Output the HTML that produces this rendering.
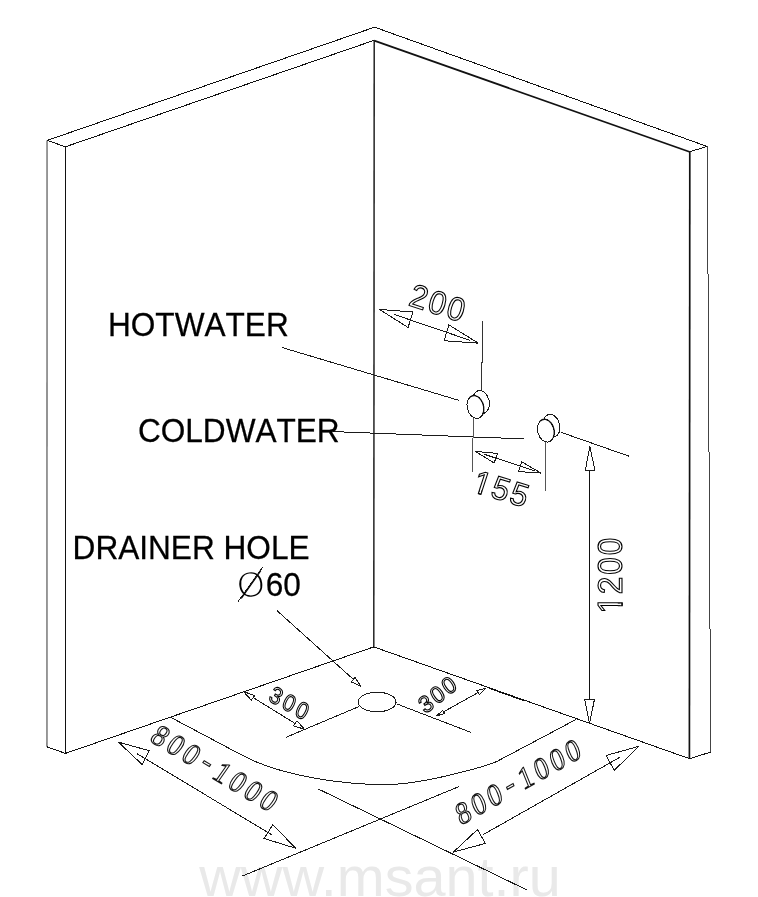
<!DOCTYPE html>
<html lang="en">
<head>
<meta charset="utf-8">
<title>Shower cabin installation scheme</title>
<style>
html,body{margin:0;padding:0;background:#fff;}
body{width:758px;height:897px;overflow:hidden;position:relative;}
svg{display:block;position:absolute;left:0;top:0;filter:grayscale(1);}
.ln{stroke:#111;stroke-width:1;fill:none;shape-rendering:crispEdges;}
.thin{stroke:#1a1a1a;stroke-width:1;fill:none;shape-rendering:crispEdges;}
.gr{stroke:#8a8a8a;stroke-width:1.1;fill:none;}
.thick{stroke:#111;stroke-width:1.7;fill:none;}
.ar{stroke:#1a1a1a;stroke-width:1;fill:#fff;stroke-linejoin:miter;shape-rendering:crispEdges;}
.lbl{font-family:"Liberation Sans",Arial,Helvetica,sans-serif;font-size:31.6px;font-kerning:none;fill:#000;stroke:#000;stroke-width:.25px;}
.dim{font-family:"Liberation Sans",Arial,Helvetica,sans-serif;font-size:100px;fill:#fff;stroke:#000;}
.dimm{font-family:"Liberation Serif","Times New Roman",serif;font-size:100px;fill:#fff;stroke:#111;}
.dia{font-family:"DejaVu Sans",sans-serif;font-weight:200;font-size:32.3px;fill:#000;}
.wm{font-family:"Liberation Sans",Arial,Helvetica,sans-serif;font-size:56px;fill:#e9e9e9;}
</style>
</head>
<body>
<svg width="758" height="897" viewBox="0 0 758 897">
<rect width="758" height="897" fill="#fff"/>

<!-- watermark -->
<g id="watermark">
<text class="wm" x="199.3" y="895.6" textLength="361.5" lengthAdjust="spacingAndGlyphs">www.msant.ru</text>
</g>

<!-- walls -->
<g id="walls">
<line class="gr" x1="47.05" y1="140.4" x2="46.95" y2="746.8" style="stroke:#555;stroke-width:1.2"/>
<line class="ln" x1="65.5" y1="146.8" x2="65.5" y2="753.4"/>
<line class="ln" x1="47.2" y1="140.4" x2="65.4" y2="146.8"/>
<line class="ln" x1="47.2" y1="140.4" x2="374.6" y2="27.2"/>
<line class="ln" x1="65.4" y1="146.8" x2="374.2" y2="40.3"/>
<line class="ln" x1="46.9" y1="746.8" x2="65.4" y2="753.4"/>
<line class="ln" x1="65.4" y1="753.4" x2="373.8" y2="646.9"/>
<line class="thick" x1="374.2" y1="40.3" x2="373.8" y2="646.9" style="stroke-width:1.4"/>
<line class="ln" x1="374.6" y1="27.2" x2="707" y2="146.4"/>
<line class="thick" x1="374.2" y1="40.6" x2="690" y2="152"/>
<line class="ln" x1="690" y1="151.7" x2="707" y2="146.4"/>
<line class="thick" x1="689.8" y1="151.7" x2="689.4" y2="758.7"/>
<line class="thin" x1="707.3" y1="146.4" x2="710.7" y2="752.1" style="stroke:#444"/>
<line class="ln" x1="689.6" y1="758.7" x2="710.7" y2="752.1"/>
<line class="ln" x1="373.8" y1="646.9" x2="689.6" y2="758.7"/>
<line class="ln" x1="488.8" y1="688.2" x2="524.8" y2="701"/>
</g>

<!-- tray -->
<g id="tray">
<path class="thin" d="M170.6 717.3 L242.8 755.6 C282.9 776.8 345 784.6 385 784.6 C425 784.6 490.8 764.7 498.3 760.7 L576 719.5"/>
<ellipse class="thin" cx="377.1" cy="702" rx="19" ry="9.75"/>
<line class="thin" x1="358.6" y1="706.7" x2="286" y2="737.3"/>
<line class="thin" x1="397" y1="704" x2="470.6" y2="732.3"/>
<line class="thin" x1="459.4" y1="786.4" x2="242.5" y2="876"/>
<line class="thin" x1="318.3" y1="789" x2="527" y2="890"/>
</g>

<!-- dimension 800-1000 left -->
<g id="dimL">
<line class="thin" x1="136.9" y1="753.6" x2="271.5" y2="834.6"/>
<path class="ar" d="M118.5 742.2 L149.3 750.7 L142.2 764.6 Z" style="fill:none"/>
<path class="ar" d="M295.8 848.3 L272.8 824.8 L264.1 838.5 Z" style="fill:none"/>
<g id="t8L" class="dimm" transform="matrix(0.2491 0.1479 -0.1749 0.2498 148.6 740.6)" stroke-width="3.6721">
<text x="0 62.1225 124.245 194.3676 248.4901 310.6126 372.7351 434.8576" y="0 0 0 -9 0 0 0 0">800-1000</text>
</g>
</g>

<!-- dimension 800-1000 right -->
<g id="dimR">
<line class="thin" x1="483.4" y1="834.5" x2="619.8" y2="757.3"/>
<path class="ar" d="M453.4 852.1 L477.5 829.5 L485.4 843.4 Z" style="fill:none"/>
<path class="ar" d="M638.8 746.3 L606.1 755.5 L614.3 770.3 Z" style="fill:none"/>
<g id="t8R" class="dimm" transform="matrix(0.2522 -0.1427 0.1143 0.2828 460.7 825.7)" stroke-width="3.6721">
<text x="0 62.1225 124.245 194.3676 248.4901 310.6126 372.7351 434.8576" y="0 0 0 -9 0 0 0 0">800-1000</text>
</g>
</g>

<!-- dimension 300 left -->
<g id="d300L">
<line class="thin" x1="243.6" y1="691.7" x2="304.4" y2="729.2"/>
<path class="ar" d="M243.6 691.7 L254.8 695.5 L251.2 700.1 Z" style="fill:#fff"/>
<path class="ar" d="M304.4 729.2 L297 720.8 L293.5 725.9 Z" style="fill:#fff"/>
<g id="t3L" class="dim" transform="matrix(0.1895 0.1089 -0.1015 0.2119 267.6 699.9)" stroke-width="4.766">
<text x="0 68.1766 136.3532" y="0 0 0">300</text>
</g>
</g>

<!-- dimension 300 right -->
<g id="d300R">
<line class="thin" x1="436.5" y1="715.8" x2="485.1" y2="688.6"/>
<path class="ar" d="M436.5 715.8 L442.6 710.6 L444.8 713.6 Z" style="fill:#fff"/>
<path class="ar" d="M485.1 688.6 L476.8 690.5 L479.6 694.6 Z" style="fill:#fff"/>
<g id="t3R" class="dim" transform="matrix(0.1904 -0.1236 0.1274 0.1962 425 714.1)" stroke-width="4.7863">
<text x="0 64.7634 129.5268" y="0 -6.8376 -13.6752">300</text>
</g>
</g>

<!-- drainer leader -->
<g id="leader">
<line class="thin" x1="276.7" y1="610.4" x2="353.4" y2="679.4"/>
<path class="ar" d="M360.9 686.5 L355 677.3 L351.4 681.9 Z"/>
</g>

<!-- taps -->
<g id="taps">
<line class="thin" x1="282" y1="347.5" x2="459.4" y2="400.5"/>
<line class="thin" x1="333" y1="431.6" x2="524" y2="438.9"/>
<line class="thin" x1="561" y1="432.3" x2="629" y2="456.2"/>
<line class="thin" x1="482.9" y1="321.5" x2="481.4" y2="391.3" style="stroke:#333"/>
<line class="thin" x1="473.4" y1="417.5" x2="472.4" y2="472.3" style="stroke:#555"/>
<line class="thin" x1="545.9" y1="442" x2="545.3" y2="491.1" style="stroke:#555"/>
<g transform="translate(475.4 407)">
<ellipse class="thin" cx="5.6" cy="-5" rx="8.2" ry="11.6" transform="rotate(-14 5.6 -5)" style="fill:#fff"/>
<ellipse class="thin" cx="0" cy="0" rx="8.2" ry="11.6" transform="rotate(-14)" style="fill:#fff"/>
<path d="M-3.4655 -10.5132 A8.2 11.6 0 0 1 5.2709 8.8861" transform="rotate(-14)" style="fill:none;stroke:#111;stroke-width:1.3"/>
</g>
<g transform="translate(545.9 430.7)">
<ellipse class="thin" cx="5.6" cy="-5" rx="8.2" ry="11.6" transform="rotate(-14 5.6 -5)" style="fill:#fff"/>
<ellipse class="thin" cx="0" cy="0" rx="8.2" ry="11.6" transform="rotate(-14)" style="fill:#fff"/>
<path d="M-3.4655 -10.5132 A8.2 11.6 0 0 1 5.2709 8.8861" transform="rotate(-14)" style="fill:none;stroke:#111;stroke-width:1.3"/>
</g>
</g>

<!-- dimension 200 -->
<g id="d200">
<line class="thin" x1="394" y1="314.4" x2="470" y2="340.3"/>
<path class="ar" d="M379.4 309.4 L412.9 312 L408.1 327.5 Z" style="fill:none"/>
<path class="ar" d="M478.4 343.2 L448.9 324.9 L444.1 340.7 Z" style="fill:none"/>
<g id="t200" class="dim" transform="matrix(0.2995 0.0973 -0.0959 0.3137 407.5 305)" stroke-width="3.4146">
<text x="0 61.9284 123.8567" y="0 0 0">200</text>
</g>
</g>

<!-- dimension 155 -->
<g id="d155">
<line class="thin" x1="484" y1="454.2" x2="535" y2="471"/>
<path class="ar" d="M475.1 451.3 L497.6 453.5 L494.1 462.9 Z" style="fill:none"/>
<path class="ar" d="M541.2 473.1 L521.6 461.8 L518.5 471.6 Z" style="fill:none"/>
<g id="t155" class="dim" transform="matrix(0.2993 0.0915 -0.1007 0.31 470.8 491.2)" stroke-width="3.4356">
<text x="0 61.6692 123.3384" y="0 0 0">155</text>
<rect x="2.6" y="-12.5" width="22.55" height="17.5" fill="#fff" stroke="none"/>
<rect x="33.98" y="-12.5" width="22" height="17.5" fill="#fff" stroke="none"/>
<path d="M25.15 -13V0H33.98V-13" fill="none"/>
</g>
</g>

<!-- dimension 1200 -->
<g id="d1200">
<line class="ln" x1="589.5" y1="470" x2="589.5" y2="699.5"/>
<path class="ar" d="M589.9 446.6 L585.3 470.3 L594.9 470.3 Z" style="fill:#fff"/>
<path class="ar" d="M589.5 723.7 L584.7 699.2 L594.5 699.2 Z" style="fill:#fff"/>
<g id="t1200" class="dim" transform="matrix(0 -0.316 0.342 0 622.2 613.6)" stroke-width="3.2749">
<text x="0 61.5174 123.0349 184.5523" y="0 0 0 0">1200</text>
<rect x="2.6" y="-12.5" width="22.55" height="17.5" fill="#fff" stroke="none"/>
<rect x="33.98" y="-12.5" width="22" height="17.5" fill="#fff" stroke="none"/>
<path d="M25.15 -13V0H33.98V-13" fill="none"/>
</g>
</g>

<!-- labels -->
<g id="labels">
<text class="lbl" transform="translate(108 335.9) scale(1 1.04)">HOTWATER</text>
<text class="lbl" transform="translate(137.9 441.7) scale(1 1.04)">COLDWATER</text>
<text class="lbl" transform="translate(72.6 558.8) scale(1 1.04)">DRAINER HOLE</text>
<g id="dia60"><text class="dia" transform="translate(250.7 584.4) rotate(-8.7) scale(1.141 0.999) translate(-12.71 11.76)">Ø</text><text class="lbl" transform="translate(265.8 595.8) scale(1 1.04)">60</text><line class="thin" x1="238.1" y1="601.6" x2="262.9" y2="566.9"/></g>
</g>
</svg>
</body>
</html>
